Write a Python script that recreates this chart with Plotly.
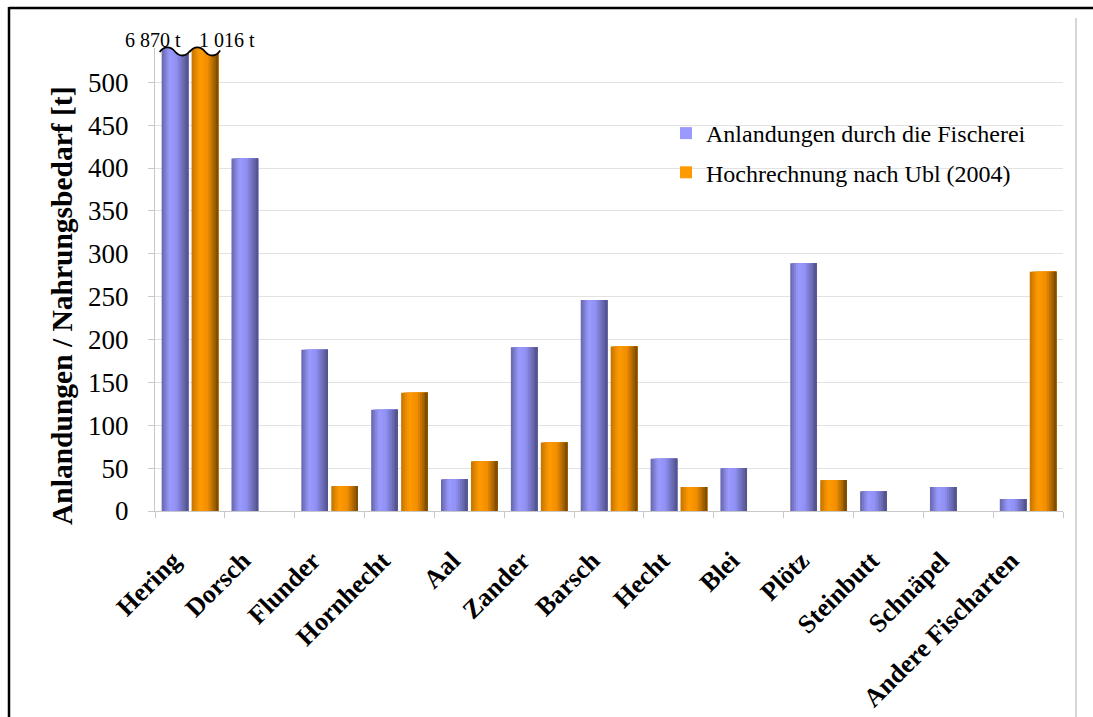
import plotly.graph_objects as go

categories = ["Hering", "Dorsch", "Flunder", "Hornhecht", "Aal", "Zander", "Barsch",
              "Hecht", "Blei", "Plötz", "Steinbutt", "Schnäpel", "Andere Fischarten"]
anlandungen = [6870, 411, 188, 118, 37, 191, 246, 61, 50, 289, 23, 28, 14]
hochrechnung = [1016, None, 29, 138, 58, 80, 192, 28, None, 36, None, None, 279]
series_names = ["Anlandungen durch die Fischerei", "Hochrechnung nach Ubl (2004)"]
y_ticks = [0, 50, 100, 150, 200, 250, 300, 350, 400, 450, 500]
y_title = "Anlandungen / Nahrungsbedarf [t]"

W, H = 1093, 717
ML, MR, MT, MB = 155, 30, 48, 206
PW, PH = W - ML - MR, H - MT - MB
YMAX = 540
FONT = "Liberation Serif"

blue_stops = [(0.0, (100, 100, 170)), (0.3, (155, 155, 255)), (0.55, (145, 145, 245)), (1.0, (80, 80, 135))]
orange_stops = [(0.0, (195, 115, 0)), (0.3, (255, 155, 0)), (0.6, (242, 142, 0)), (1.0, (118, 72, 0))]


def interp(stops, t):
    for (t0, c0), (t1, c1) in zip(stops[:-1], stops[1:]):
        if t0 <= t <= t1:
            f = (t - t0) / (t1 - t0)
            c = [round(a + (b - a) * f) for a, b in zip(c0, c1)]
            return f"rgb({c[0]},{c[1]},{c[2]})"
    c = stops[-1][1]
    return f"rgb({c[0]},{c[1]},{c[2]})"


BW = 0.381
offsets = [-0.405, 0.024]
N = 14
fig = go.Figure()
for si, (vals, stops) in enumerate([(anlandungen, blue_stops), (hochrechnung, orange_stops)]):
    s = BW / N
    for k in range(N):
        t = (k + 0.5) / N
        leg = (k == 4)
        fig.add_trace(go.Bar(
            x=categories, y=vals,
            offset=offsets[si] + k * s, width=BW - k * s,
            marker=dict(color=interp(stops, t), line=dict(width=0)),
            name=series_names[si], legendgroup=f"g{si}", showlegend=leg,
            hoverinfo="skip" if not leg else None,
        ))


def px2paper_x(px):
    return (px - ML) / PW


def px2paper_y(py):
    return (H - MB - py) / PH


def cat2paper(i, off):
    return (i + 0.5 + off) / len(categories)


shapes = []
annotations = []
label_shift = [-22, 22]
# break marks on the clipped bars of the first category
for si, vals in enumerate([anlandungen, hochrechnung]):
    if vals[0] is not None and vals[0] > YMAX:
        x0 = cat2paper(0, offsets[si]) - 2 / PW
        x1 = cat2paper(0, offsets[si] + BW) + 2 / PW
        L = x1 - x0
        ys = [52, 46, 46, 51.5, 57, 57, 50.5]
        yp = [px2paper_y(v) for v in ys]
        wave = (f"M{x0},{yp[0]} C{x0 + .15 * L},{yp[1]} {x0 + .35 * L},{yp[2]} {x0 + .5 * L},{yp[3]} "
                f"C{x0 + .65 * L},{yp[4]} {x0 + .85 * L},{yp[5]} {x1},{yp[6]}")
        mask = wave + f" L{x1},{px2paper_y(46)} L{x0},{px2paper_y(46)} Z"
        shapes.append(dict(type="path", xref="paper", yref="paper", path=mask,
                           fillcolor="white", line=dict(width=0), layer="above"))
        shapes.append(dict(type="path", xref="paper", yref="paper", path=wave,
                           line=dict(color="black", width=1.8), layer="above"))
        label = f"{vals[0]:,}".replace(",", " ") + " t"
        annotations.append(dict(text=label, xref="paper", yref="paper",
                                x=cat2paper(0, offsets[si] + BW / 2), xshift=label_shift[si],
                                y=px2paper_y(40), showarrow=False,
                                font=dict(family=FONT, size=20, color="black"),
                                xanchor="center", yanchor="middle"))

# y-axis title as rotated annotation
annotations.append(dict(text=y_title, xref="paper", yref="paper",
                        x=px2paper_x(62), y=px2paper_y(306), textangle=-90, showarrow=False,
                        font=dict(family=FONT, size=29.5, weight="bold", color="black"),
                        xanchor="center", yanchor="middle"))

# frame lines
shapes.append(dict(type="line", xref="paper", yref="paper",
                   x0=px2paper_x(9), x1=px2paper_x(W + 5), y0=px2paper_y(8), y1=px2paper_y(8),
                   line=dict(color="black", width=2.5), layer="above"))
shapes.append(dict(type="line", xref="paper", yref="paper",
                   x0=px2paper_x(9), x1=px2paper_x(9), y0=px2paper_y(7), y1=px2paper_y(H + 5),
                   line=dict(color="black", width=2.5), layer="above"))
shapes.append(dict(type="line", xref="paper", yref="paper",
                   x0=px2paper_x(1076), x1=px2paper_x(1076), y0=px2paper_y(18), y1=px2paper_y(H + 5),
                   line=dict(color="#c8c8c8", width=1.5), layer="above"))

fig.update_layout(
    width=W, height=H,
    margin=dict(l=ML, r=MR, t=MT, b=MB, pad=0, autoexpand=False),
    paper_bgcolor="white", plot_bgcolor="white",
    barmode="overlay",
    font=dict(family=FONT, color="black"),
    showlegend=True,
    legend=dict(x=px2paper_x(666), y=px2paper_y(111), xanchor="left", yanchor="top",
                font=dict(family=FONT, size=24, color="black"),
                bgcolor="rgba(0,0,0,0)", traceorder="grouped", tracegroupgap=5),
    shapes=shapes, annotations=annotations,
    xaxis=dict(type="category", tickson="boundaries", ticks="outside", ticklen=6,
               tickcolor="#c8c8c8", showline=True, linecolor="#c8c8c8", linewidth=1,
               tickangle=-45, ticklabelstandoff=23, ticklabelshift=-17, automargin=False,
               tickfont=dict(family=FONT, size=26, weight="bold", color="black"),
               showgrid=False, range=[-0.5, len(categories) - 0.5]),
    yaxis=dict(range=[0, YMAX], tickvals=y_ticks, ticks="outside", ticklen=6,
               tickcolor="#c8c8c8", showline=True, linecolor="#c8c8c8", linewidth=1,
               gridcolor="#e2e2e2", gridwidth=1, zeroline=False, automargin=False,
               ticklabelstandoff=14,
               tickfont=dict(family=FONT, size=27, color="black")),
)

fig.write_html("out.html")
